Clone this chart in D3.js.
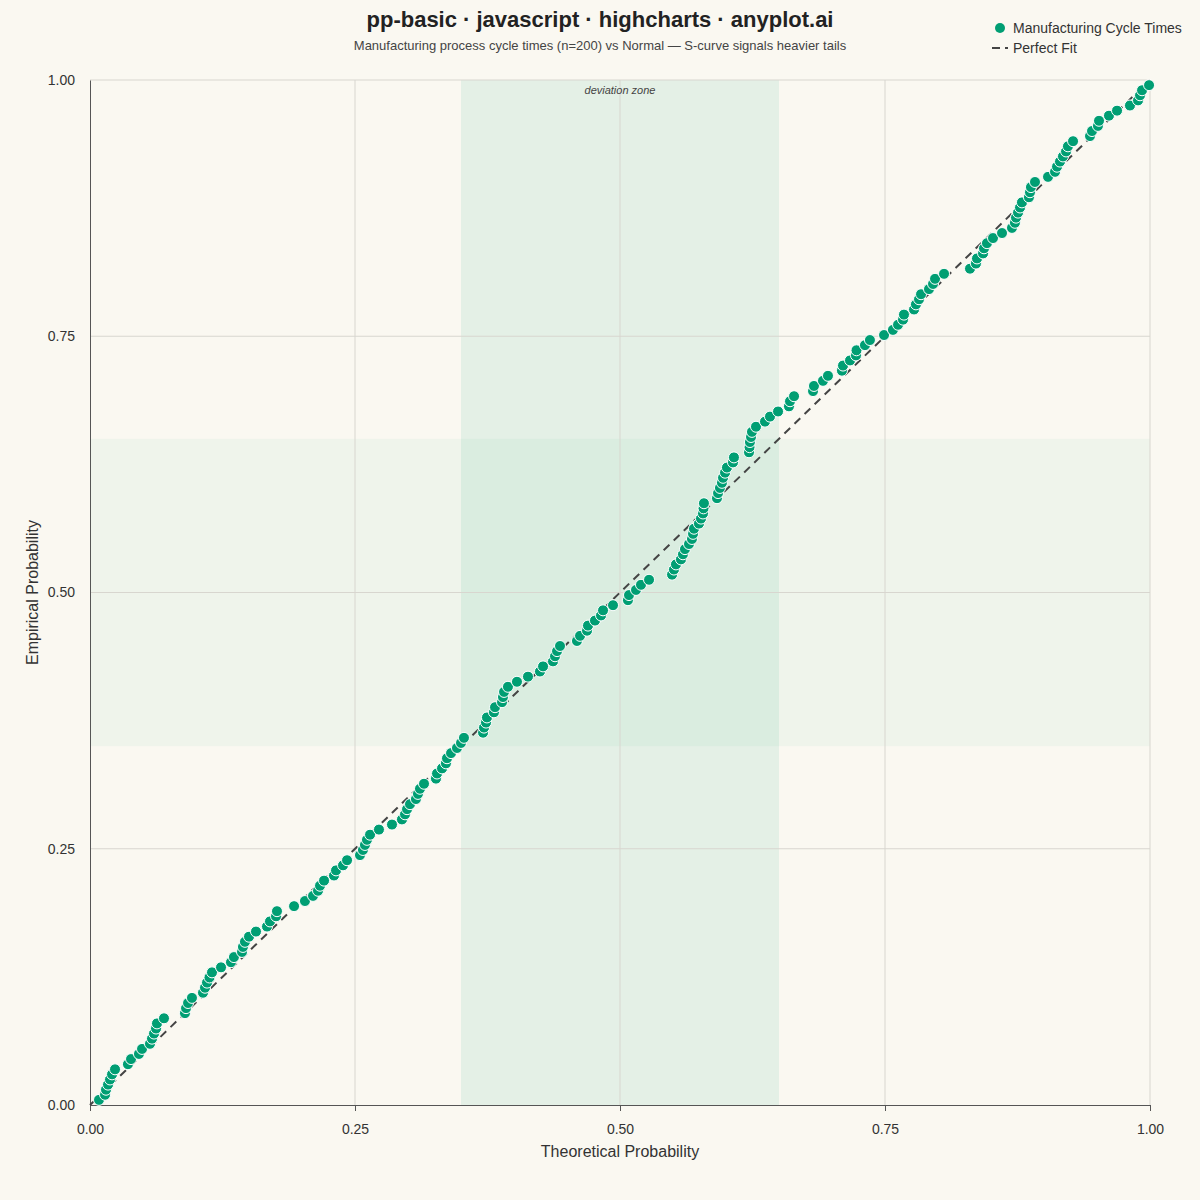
<!DOCTYPE html>
<html>
<head>
<meta charset="utf-8">
<script src="https://cdn.jsdelivr.net/npm/d3@7"></script>
<style>
  html, body { margin: 0; padding: 0; background: #faf8f1; }
  svg { display: block; font-family: "Liberation Sans", Arial, Helvetica, sans-serif; }
</style>
</head>
<body>
<script>
const width = 1200;
const height = 1200;

// theoretical probabilities (sorted)
const theoretical = [
  0.0085, 0.0142, 0.0151, 0.0170, 0.0189, 0.0208, 0.0236, 0.0358, 0.0387, 0.0462,
  0.0491, 0.0566, 0.0585, 0.0604, 0.0623, 0.0632, 0.0698, 0.0896, 0.0906, 0.0925,
  0.0962, 0.1066, 0.1085, 0.1104, 0.1127, 0.1151, 0.1236, 0.1330, 0.1358, 0.1434,
  0.1443, 0.1462, 0.1500, 0.1566, 0.1670, 0.1698, 0.1755, 0.1764, 0.1925, 0.2028,
  0.2104, 0.2151, 0.2170, 0.2208, 0.2302, 0.2321, 0.2387, 0.2425, 0.2547, 0.2575,
  0.2594, 0.2613, 0.2642, 0.2726, 0.2849, 0.2943, 0.2972, 0.2991, 0.3019, 0.3075,
  0.3094, 0.3113, 0.3151, 0.3264, 0.3274, 0.3321, 0.3358, 0.3368, 0.3406, 0.3462,
  0.3500, 0.3528, 0.3708, 0.3717, 0.3736, 0.3745, 0.3811, 0.3821, 0.3887, 0.3896,
  0.3906, 0.3943, 0.4028, 0.4132, 0.4245, 0.4274, 0.4368, 0.4387, 0.4406, 0.4434,
  0.4594, 0.4623, 0.4689, 0.4698, 0.4764, 0.4821, 0.4840, 0.4934, 0.5075, 0.5085,
  0.5151, 0.5198, 0.5274, 0.5491, 0.5509, 0.5528, 0.5575, 0.5594, 0.5613, 0.5651,
  0.5679, 0.5689, 0.5698, 0.5745, 0.5764, 0.5783, 0.5788, 0.5792, 0.5915, 0.5925,
  0.5943, 0.5962, 0.5972, 0.5991, 0.6009, 0.6066, 0.6075, 0.6217, 0.6222, 0.6226,
  0.6236, 0.6245, 0.6283, 0.6368, 0.6415, 0.6491, 0.6594, 0.6604, 0.6642, 0.6821,
  0.6830, 0.6915, 0.6962, 0.7094, 0.7104, 0.7170, 0.7226, 0.7231, 0.7311, 0.7358,
  0.7491, 0.7575, 0.7623, 0.7670, 0.7679, 0.7774, 0.7792, 0.7821, 0.7840, 0.7915,
  0.7953, 0.7972, 0.8057, 0.8302, 0.8358, 0.8368, 0.8425, 0.8434, 0.8462, 0.8519,
  0.8604, 0.8698, 0.8726, 0.8736, 0.8755, 0.8774, 0.8792, 0.8858, 0.8868, 0.8877,
  0.8915, 0.9038, 0.9104, 0.9123, 0.9151, 0.9179, 0.9208, 0.9226, 0.9274, 0.9434,
  0.9453, 0.9509, 0.9519, 0.9613, 0.9689, 0.9811, 0.9887, 0.9906, 0.9925, 0.9991
];

// empirical probabilities (one per sorted observation)
const empirical = [
  0.0050, 0.0100, 0.0149, 0.0199, 0.0249, 0.0299, 0.0348, 0.0398, 0.0448, 0.0498,
  0.0547, 0.0597, 0.0647, 0.0697, 0.0746, 0.0796, 0.0846, 0.0896, 0.0945, 0.0995,
  0.1045, 0.1095, 0.1144, 0.1194, 0.1244, 0.1294, 0.1343, 0.1393, 0.1443, 0.1493,
  0.1542, 0.1592, 0.1642, 0.1692, 0.1741, 0.1791, 0.1841, 0.1891, 0.1940, 0.1990,
  0.2040, 0.2090, 0.2139, 0.2189, 0.2239, 0.2289, 0.2338, 0.2388, 0.2438, 0.2488,
  0.2537, 0.2587, 0.2637, 0.2687, 0.2736, 0.2786, 0.2836, 0.2886, 0.2935, 0.2985,
  0.3035, 0.3085, 0.3134, 0.3184, 0.3234, 0.3284, 0.3333, 0.3383, 0.3433, 0.3483,
  0.3532, 0.3582, 0.3632, 0.3682, 0.3731, 0.3781, 0.3831, 0.3881, 0.3930, 0.3980,
  0.4030, 0.4080, 0.4129, 0.4179, 0.4229, 0.4279, 0.4328, 0.4378, 0.4428, 0.4478,
  0.4527, 0.4577, 0.4627, 0.4677, 0.4726, 0.4776, 0.4826, 0.4876, 0.4925, 0.4975,
  0.5025, 0.5075, 0.5124, 0.5174, 0.5224, 0.5274, 0.5323, 0.5373, 0.5423, 0.5473,
  0.5522, 0.5572, 0.5622, 0.5672, 0.5721, 0.5771, 0.5821, 0.5871, 0.5920, 0.5970,
  0.6020, 0.6070, 0.6119, 0.6169, 0.6219, 0.6269, 0.6318, 0.6368, 0.6418, 0.6468,
  0.6517, 0.6567, 0.6617, 0.6667, 0.6716, 0.6766, 0.6816, 0.6866, 0.6915, 0.6965,
  0.7015, 0.7065, 0.7114, 0.7164, 0.7214, 0.7264, 0.7313, 0.7363, 0.7413, 0.7463,
  0.7512, 0.7562, 0.7612, 0.7662, 0.7711, 0.7761, 0.7811, 0.7861, 0.7910, 0.7960,
  0.8010, 0.8060, 0.8109, 0.8159, 0.8209, 0.8259, 0.8308, 0.8358, 0.8408, 0.8458,
  0.8507, 0.8557, 0.8607, 0.8657, 0.8706, 0.8756, 0.8806, 0.8856, 0.8905, 0.8955,
  0.9005, 0.9055, 0.9104, 0.9154, 0.9204, 0.9254, 0.9303, 0.9353, 0.9403, 0.9453,
  0.9502, 0.9552, 0.9602, 0.9652, 0.9701, 0.9751, 0.9801, 0.9851, 0.9900, 0.9950
];

const refLine = [0, 1];
const ticks = [0, 0.25, 0.5, 0.75, 1];
const band = [0.35, 0.65];

const margin = {top: 80, right: 50, bottom: 95, left: 90};
const green = "#009e73";

const svg = d3.select("body")
  .append("svg")
  .attr("width", width)
  .attr("height", height);

svg.append("rect")
  .attr("width", width)
  .attr("height", height)
  .attr("fill", "#faf8f1");

const x = d3.scaleLinear()
  .domain([0, 1])
  .range([margin.left, width - margin.right]);

const y = d3.scaleLinear()
  .domain([0, 1])
  .range([height - margin.bottom, margin.top]);

// deviation bands
svg.append("rect")
  .attr("x", x.range()[0])
  .attr("width", x(1) - x(0))
  .attr("y", y(band[1]))
  .attr("height", y(band[0]) - y(band[1]))
  .attr("fill", green)
  .attr("fill-opacity", 0.045);

svg.append("rect")
  .attr("x", x(band[0]))
  .attr("width", x(band[1]) - x(band[0]))
  .attr("y", y(1))
  .attr("height", y(0) - y(1))
  .attr("fill", green)
  .attr("fill-opacity", 0.085);

// grid
svg.append("g")
  .selectAll("line")
  .data(ticks.slice(1))
  .join("line")
  .attr("x1", d => x(d)).attr("x2", d => x(d))
  .attr("y1", y(0)).attr("y2", y(1))
  .attr("stroke", "#d8d6cf")
  .attr("stroke-width", 1);

svg.append("g")
  .selectAll("line")
  .data(ticks.slice(1))
  .join("line")
  .attr("y1", d => y(d)).attr("y2", d => y(d))
  .attr("x1", x(0)).attr("x2", x(1))
  .attr("stroke", "#d8d6cf")
  .attr("stroke-width", 1);

svg.append("text")
  .attr("x", x(0.5))
  .attr("y", y(1) + 14)
  .attr("text-anchor", "middle")
  .attr("font-size", 11)
  .attr("font-style", "italic")
  .attr("fill", "#444")
  .text("deviation zone");

// axes
const xAxis = svg.append("g")
  .attr("transform", `translate(0,${y(0)})`)
  .call(d3.axisBottom(x).tickValues(ticks).tickFormat(d3.format(".2f")).tickSizeInner(6).tickSizeOuter(0).tickPadding(13));

const yAxis = svg.append("g")
  .attr("transform", `translate(${x(0)},0)`)
  .call(d3.axisLeft(y).tickValues(ticks).tickFormat(d3.format(".2f")).tickSize(0).tickPadding(15));

[xAxis, yAxis].forEach(g => {
  g.attr("font-size", 14).attr("font-family", "'Liberation Sans', Arial, sans-serif");
  g.select(".domain").attr("stroke", "#555").attr("stroke-width", 1);
  g.selectAll(".tick line").attr("stroke", "#555");
  g.selectAll("text").attr("fill", "#333");
});

svg.append("text")
  .attr("x", x(0.5))
  .attr("y", 1157)
  .attr("text-anchor", "middle")
  .attr("font-size", 16)
  .attr("fill", "#333")
  .text("Theoretical Probability");

svg.append("text")
  .attr("transform", `translate(38,${y(0.5)}) rotate(-90)`)
  .attr("text-anchor", "middle")
  .attr("font-size", 16)
  .attr("fill", "#333")
  .text("Empirical Probability");

// perfect fit line
svg.append("line")
  .attr("x1", x(refLine[0])).attr("y1", y(refLine[0]))
  .attr("x2", x(refLine[1])).attr("y2", y(refLine[1]))
  .attr("stroke", "#444")
  .attr("stroke-width", 2)
  .attr("stroke-dasharray", "8,6");

// points
svg.append("g")
  .selectAll("circle")
  .data(theoretical)
  .join("circle")
  .attr("cx", d => x(d))
  .attr("cy", (d, i) => y(empirical[i]))
  .attr("r", 5.5)
  .attr("fill", green)
  .attr("stroke", "#ffffff")
  .attr("stroke-width", 1);

// titles
svg.append("text")
  .attr("x", width / 2)
  .attr("y", 27)
  .attr("text-anchor", "middle")
  .attr("font-size", 22)
  .attr("font-weight", "bold")
  .attr("fill", "#222")
  .text("pp-basic · javascript · highcharts · anyplot.ai");

svg.append("text")
  .attr("x", width / 2)
  .attr("y", 50)
  .attr("text-anchor", "middle")
  .attr("font-size", 13)
  .attr("fill", "#444")
  .text("Manufacturing process cycle times (n=200) vs Normal — S-curve signals heavier tails");

// legend
const legend = svg.append("g").attr("transform", "translate(1000,0)");
legend.append("circle")
  .attr("cx", 0).attr("cy", 28).attr("r", 5)
  .attr("fill", green);
legend.append("text")
  .attr("x", 13).attr("y", 33)
  .attr("font-size", 14)
  .attr("fill", "#333")
  .text("Manufacturing Cycle Times");
legend.append("line")
  .attr("x1", -8).attr("x2", 8)
  .attr("y1", 48).attr("y2", 48)
  .attr("stroke", "#444")
  .attr("stroke-width", 2)
  .attr("stroke-dasharray", "8,5");
legend.append("text")
  .attr("x", 13).attr("y", 53)
  .attr("font-size", 14)
  .attr("fill", "#333")
  .text("Perfect Fit");
</script>
</body>
</html>
